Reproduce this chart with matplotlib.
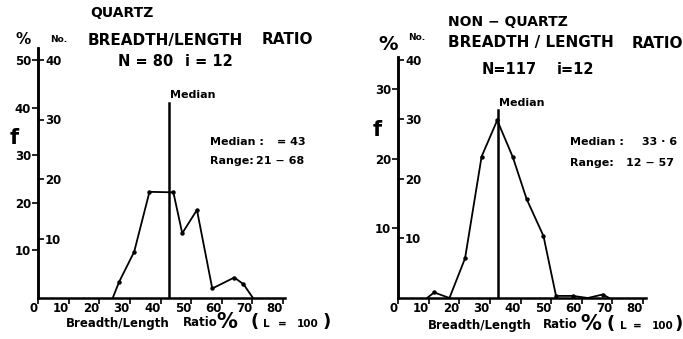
import matplotlib
matplotlib.use("Agg")
import matplotlib.pyplot as plt

plt.rcParams['font.family'] = ['DejaVu Sans']
plt.rcParams['font.weight'] = 'bold'

# ---- data ----
# Quartz: breadth/length ratio (%) vs frequency (%)
q_ratio = [24.4, 26.5, 31.4, 36.4, 44.2, 47.1, 51.9, 56.9, 64.1, 67.1, 70.2]
q_freq = [0.0, 3.4, 9.7, 22.3, 22.2, 13.6, 18.5, 2.0, 4.3, 2.9, 0.0]
q_dots = [False, True, True, True, True, True, True, True, True, True, False]
q_median_pos = 42.8
q_N = 80

# Non-quartz
n_ratio = [9.5, 11.8, 16.8, 21.9, 27.3, 32.4, 37.5, 42.0, 47.5, 51.6, 57.1, 62.0, 66.8, 69.0]
n_freq = [0.0, 0.8, 0.0, 5.7, 20.3, 25.5, 20.2, 14.2, 8.9, 0.3, 0.3, 0.0, 0.5, 0.0]
n_dots = [False, True, False, True, True, True, True, True, True, True, True, False, True, False]
n_median_pos = 32.6
n_N = 117

x_ticks = [0, 10, 20, 30, 40, 50, 60, 70, 80]
x_ticklabels = ['0', '10', '20', '30', '40', '50', '60', '70', '80']
q_pct_ticks = [10, 20, 30, 40, 50]
q_no_ticks = [10, 20, 30, 40]
n_pct_ticks = [10, 20, 30]
n_no_ticks = [10, 20, 30, 40]

W, H = 683, 339
fig = plt.figure(figsize=(W / 100, H / 100), dpi=100)
fig.patch.set_facecolor('white')

TICK_FS = 8.5
SMALL_FS = 8
TITLE_FS = 11


def ftxt(x, y, s, size=SMALL_FS, ha='left', va='center', **kw):
    return fig.text(x / W, 1 - y / H, s, fontsize=size, ha=ha, va=va,
                    fontweight='bold', color='black', **kw)


def make_panel(left_px, ytop_pct, px_per_pct, xmax, ratio, freq, dots, med,
               med_top_px, N, pct_ticks, no_ticks):
    base = 298
    width = 245 / 80 * xmax
    height = ytop_pct * px_per_pct
    ax = fig.add_axes([left_px / W, (H - base) / H, width / W, height / H])
    ax.set_xlim(0, xmax)
    ax.set_ylim(0, ytop_pct)
    ax.patch.set_alpha(0)
    for s in ['top', 'right']:
        ax.spines[s].set_visible(False)
    for s in ['left', 'bottom']:
        ax.spines[s].set_linewidth(1.8)
    ax.plot(ratio, freq, color='black', lw=1.3, clip_on=False, zorder=3)
    ax.plot([r for r, d in zip(ratio, dots) if d],
            [f for f, d in zip(freq, dots) if d],
            'o', color='black', ms=2.2, clip_on=False, zorder=4)
    ax.axvline(med, ymin=0, ymax=(base - med_top_px) / height,
               color='black', lw=1.8)
    ax.set_xticks(x_ticks)
    ax.set_xticklabels(x_ticklabels, fontsize=TICK_FS, fontweight='bold')
    for lab in ax.get_xticklabels():
        lab.set_ha('right')
    ax.tick_params(axis='x', direction='out', length=4, width=1.2, pad=-1)
    ax.set_yticks(pct_ticks)
    ax.set_yticklabels([str(t) for t in pct_ticks], fontsize=TICK_FS, fontweight='bold')
    ax.tick_params(axis='y', direction='out', length=4, width=1.2, pad=1)
    sec = ax.secondary_yaxis(0, functions=(lambda p: p * N / 100.0,
                                           lambda n: n * 100.0 / N))
    sec.set_yticks(no_ticks)
    sec.set_yticklabels([str(t) for t in no_ticks], fontsize=TICK_FS, fontweight='bold')
    sec.tick_params(axis='y', left=False, right=True, labelleft=False,
                    labelright=True, direction='out', length=4, width=1.2, pad=1)
    sec.spines['left'].set_linewidth(1.8)
    for s in ['right', 'top', 'bottom']:
        if s in sec.spines:
            sec.spines[s].set_visible(False)
    return ax


axq = make_panel(38, 52.5, 4.76, 80.5, q_ratio, q_freq, q_dots, q_median_pos,
                 103, q_N, q_pct_ticks, q_no_ticks)
axn = make_panel(398, 34.6, 6.97, 81, n_ratio, n_freq, n_dots, n_median_pos,
                 110, n_N, n_pct_ticks, n_no_ticks)

# ---- left panel texts ----
ftxt(90, 13, 'QUARTZ', size=10)
ftxt(88, 40, 'BREADTH/LENGTH', size=TITLE_FS)
ftxt(262, 40, 'RATIO', size=TITLE_FS)
ftxt(118, 62, 'N = 80', size=10.5)
ftxt(185, 62, 'i = 12', size=10.5)
ftxt(23, 40, '%', size=11, ha='center')
ftxt(59, 40, 'No.', size=6.5, ha='center')
ftxt(14, 138, 'f', size=15, ha='center')
ftxt(170, 95, 'Median')
ftxt(210, 142, 'Median :')
ftxt(277, 142, '= 43')
ftxt(210, 161, 'Range:')
ftxt(256, 161, '21 \u2212 68')
ftxt(66, 323, 'Breadth/Length', size=8.5)
ftxt(183, 323, 'Ratio', size=8.5)
ftxt(227, 322, '%', size=15, ha='center')
ftxt(250, 322, '(', size=13)
ftxt(263, 324, 'L', size=7.5)
ftxt(278, 324, '=', size=7.5)
ftxt(297, 324, '100', size=7.5)
ftxt(331, 322, ')', size=13, ha='right')

# ---- right panel texts ----
ftxt(448, 22, 'NON \u2212 QUARTZ', size=10)
ftxt(448, 43, 'BREADTH / LENGTH', size=TITLE_FS)
ftxt(632, 43, 'RATIO', size=TITLE_FS)
ftxt(482, 70, 'N=117', size=10.5)
ftxt(557, 70, 'i=12', size=10.5)
ftxt(388, 45, '%', size=14, ha='center')
ftxt(417, 38, 'No.', size=6.5, ha='center')
ftxt(377, 130, 'f', size=15, ha='center')
ftxt(499, 103, 'Median')
ftxt(570, 142, 'Median :')
ftxt(642, 142, '33 \u00b7 6')
ftxt(570, 163, 'Range:')
ftxt(626, 163, '12 \u2212 57')
ftxt(428, 325, 'Breadth/Length', size=8.5)
ftxt(543, 325, 'Ratio', size=8.5)
ftxt(591, 324, '%', size=15, ha='center')
ftxt(606, 324, '(', size=13)
ftxt(620, 326, 'L', size=7.5)
ftxt(633, 326, '=', size=7.5)
ftxt(652, 326, '100', size=7.5)
ftxt(683, 324, ')', size=13, ha='right')

fig.savefig('out.png', dpi=100)
